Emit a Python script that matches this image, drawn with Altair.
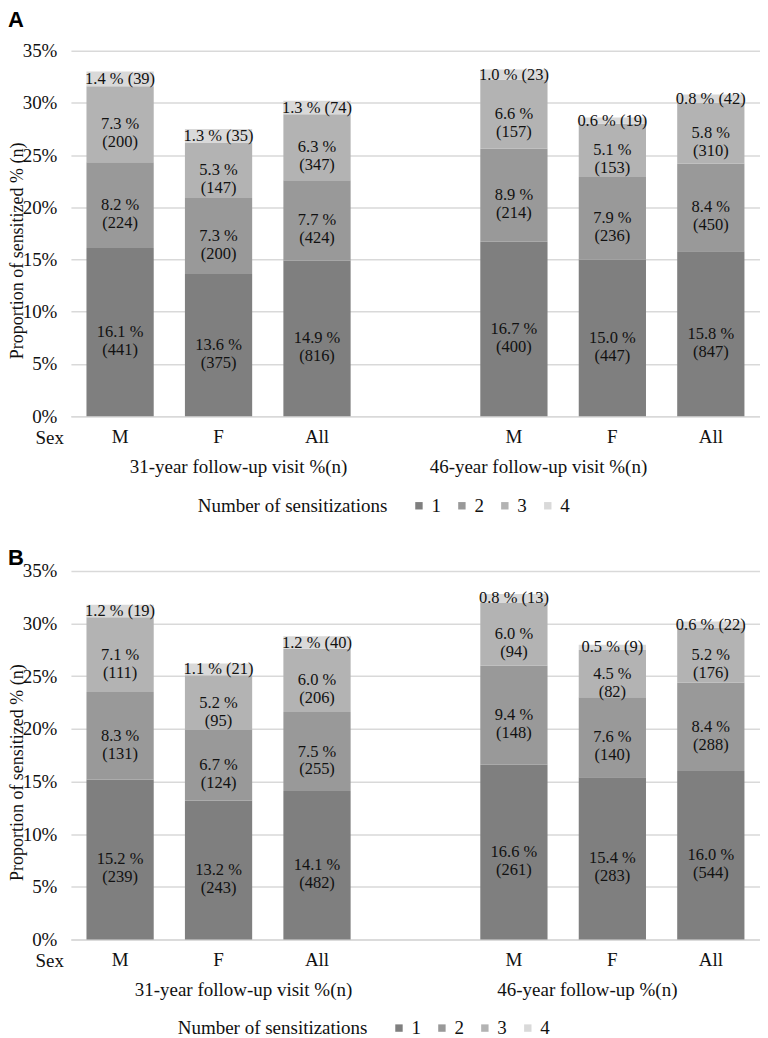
import altair as alt
import pandas as pd

# ---- data ----
slots = ["M31", "F31", "All31", "gap", "M46", "F46", "All46"]
bar_slots = ["M31", "F31", "All31", "M46", "F46", "All46"]
segments = [1, 2, 3, 4]
seg_colors = ["#7f7f7f", "#999999", "#b3b3b3", "#d9d9d9"]

a_pct_1 = [16.1, 13.6, 14.9, 16.7, 15.0, 15.8]
a_pct_2 = [8.2, 7.3, 7.7, 8.9, 7.9, 8.4]
a_pct_3 = [7.3, 5.3, 6.3, 6.6, 5.1, 5.8]
a_pct_4 = [1.4, 1.3, 1.3, 1.0, 0.6, 0.8]
a_n_1 = [441, 375, 816, 400, 447, 847]
a_n_2 = [224, 200, 424, 214, 236, 450]
a_n_3 = [200, 147, 347, 157, 153, 310]
a_n_4 = [39, 35, 74, 23, 19, 42]

b_pct_1 = [15.2, 13.2, 14.1, 16.6, 15.4, 16.0]
b_pct_2 = [8.3, 6.7, 7.5, 9.4, 7.6, 8.4]
b_pct_3 = [7.1, 5.2, 6.0, 6.0, 4.5, 5.2]
b_pct_4 = [1.2, 1.1, 1.2, 0.8, 0.5, 0.6]
b_n_1 = [239, 243, 482, 261, 283, 544]
b_n_2 = [131, 124, 255, 148, 140, 288]
b_n_3 = [111, 95, 206, 94, 82, 176]
b_n_4 = [19, 21, 40, 13, 9, 22]

a_groups = ["31-year follow-up visit %(n)", "46-year follow-up visit %(n)"]
b_groups = ["31-year follow-up visit %(n)", "46-year follow-up %(n)"]
group_slots = ["F31", "F46"]

SERIF = "Liberation Serif, Times New Roman, DejaVu Serif, serif"
W = 690
FS = 19
TXT = "#111111"


def long_table(pcts, ns):
    rows = []
    for seg, pl, nl in zip(segments, pcts, ns):
        for s, p, n in zip(bar_slots, pl, nl):
            rows.append({"slot": s, "seg": str(seg), "segnum": seg, "pct": p, "n": n})
    return pd.DataFrame(rows)


def panel(letter, pcts, ns, groups, group_dx, H, letter_y, legend_x, legend_y):
    df = long_table(pcts, ns)
    xscale = alt.Scale(domain=slots, paddingInner=0.317, paddingOuter=0.158)
    yscale = alt.Scale(domain=[0, 35], nice=False)
    base = alt.Chart(df)
    bars = base.mark_bar().encode(
        x=alt.X("slot:N", scale=xscale, sort=slots,
                axis=alt.Axis(title="Sex", titleX=-36, titleY=21, titleAngle=0,
                              titleAlign="left", titleBaseline="middle",
                              titleFont=SERIF, titleFontSize=FS, titleFontWeight="normal",
                              titleColor=TXT,
                              labelExpr="replace(replace(replace(datum.value,'31',''),'46',''),'gap','')",
                              labelAngle=0, labelFont=SERIF, labelFontSize=FS,
                              labelColor=TXT, labelPadding=11, ticks=False,
                              domainColor="#d9d9d9", domainWidth=1.5)),
        y=alt.Y("pct:Q", scale=yscale, stack="zero",
                axis=alt.Axis(title="Proportion of sensitized % (n)",
                              values=[0, 5, 10, 15, 20, 25, 30, 35],
                              labelExpr="datum.value + '%'",
                              labelFont=SERIF, labelFontSize=FS, labelColor=TXT,
                              labelPadding=14, ticks=False, domain=False,
                              gridColor="#d9d9d9", gridWidth=1.5,
                              titleFont=SERIF, titleFontSize=18, titleFontWeight="normal",
                              titleColor=TXT, titleX=-53, titleY=H / 2 + 17,
                              titleBaseline="middle", titleLimit=400)),
        color=alt.Color("seg:N", scale=alt.Scale(domain=[str(s) for s in segments], range=seg_colors),
                        legend=alt.Legend(title="Number of sensitizations", orient="none",
                                          legendX=legend_x, legendY=legend_y,
                                          direction="horizontal", titleOrient="left",
                                          symbolType="square", symbolSize=55,
                                          symbolStrokeWidth=0, labelFont=SERIF,
                                          labelFontSize=FS, labelColor=TXT,
                                          labelOffset=3, columnPadding=11,
                                          titleFont=SERIF, titleFontSize=FS,
                                          titleFontWeight="normal", titleColor=TXT,
                                          titlePadding=22, titleBaseline="middle",
                                          titleLimit=400)),
        order=alt.Order("segnum:Q", sort="ascending"),
    )
    labels = base.transform_stack(
        stack="pct", groupby=["slot"], sort=[alt.SortField("segnum", order="ascending")],
        as_=["y0", "y1"]
    ).transform_calculate(
        mid="(datum.y0 + datum.y1) / 2",
        label="datum.segnum < 4 ? format(datum.pct, '.1f') + ' %|(' + datum.n + ')' : format(datum.pct, '.1f') + ' % (' + datum.n + ')'",
    ).mark_text(font=SERIF, fontSize=16.5, color=TXT, lineBreak="|", lineHeight=18,
                baseline="middle").encode(
        x=alt.X("slot:N", scale=xscale, sort=slots),
        y=alt.Y("mid:Q", scale=yscale),
        text="label:N",
    )
    layers = [bars, labels]
    for g, gs, dx in zip(groups, group_slots, group_dx):
        gdf = pd.DataFrame({"slot": [gs], "name": [g]})
        layers.append(
            alt.Chart(gdf).mark_text(font=SERIF, fontSize=FS, color=TXT, dx=dx,
                                     baseline="middle").encode(
                x=alt.X("slot:N", scale=xscale, sort=slots),
                y=alt.value(H + 51),
                text="name:N",
            )
        )
    ldf = pd.DataFrame({"letter": [letter]})
    layers.append(
        alt.Chart(ldf).mark_text(font="Liberation Sans, Arial, sans-serif", fontSize=22,
                                 fontWeight="bold", align="left", baseline="middle",
                                 color="#000000").encode(
            x=alt.value(-63), y=alt.value(letter_y), text="letter:N"
        )
    )
    return alt.layer(*layers).properties(width=W, height=H)


pA = panel("A", [a_pct_1, a_pct_2, a_pct_3, a_pct_4], [a_n_1, a_n_2, a_n_3, a_n_4],
           a_groups, [20, -74], 366, -31, 127, 446)
pB = panel("B", [b_pct_1, b_pct_2, b_pct_3, b_pct_4], [b_n_1, b_n_2, b_n_3, b_n_4],
           b_groups, [25, -25], 369, -13, 107, 448)

chart = alt.vconcat(pA, pB, spacing=31).resolve_legend(color="independent").resolve_scale(
    color="independent"
).properties(padding=0).configure_view(stroke=None)

chart.save("out.html", embed_options={"renderer": "svg", "actions": False})
